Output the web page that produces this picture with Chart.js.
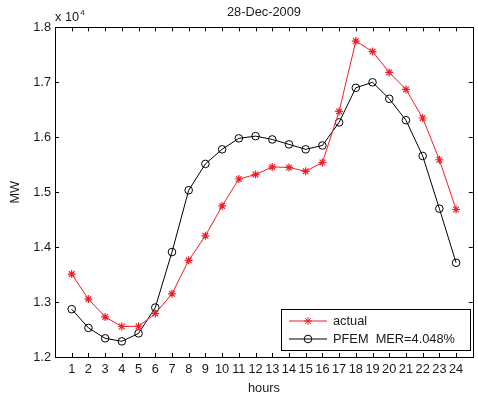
<!DOCTYPE html>
<html>
<head>
<meta charset="utf-8">
<script src="https://cdn.jsdelivr.net/npm/chart.js@4/dist/chart.umd.min.js"></script>
<style>
  html, body { margin: 0; padding: 0; background: #fff; }
  #wrap { width: 478px; height: 396px; }
</style>
</head>
<body>
<div id="wrap"><canvas id="myChart"></canvas></div>
<script>
// Data (MW)
const hours = [1,2,3,4,5,6,7,8,9,10,11,12,13,14,15,16,17,18,19,20,21,22,23,24];
const actual = [13510,13055,12730,12555,12560,12790,13150,13760,14206,14750,15240,15320,
                15460,15450,15380,15540,16470,17750,17560,17180,16870,16350,15590,14685];
const pfem = [12870,12530,12340,12285,12430,12900,13910,15036,15515,15780,15980,16020,
              15960,15870,15780,15850,16270,16900,17000,16700,16310,15660,14700,13715];
const yTicks = [12000,13000,14000,15000,16000,17000,18000];
const seriesLabels = ['actual', 'PFEM  MER=4.048%'];
const titleText = '28-Dec-2009';

const FONT = '"Liberation Sans", Arial, sans-serif';
const FS = 12.8;
const TXT = '#1a1a1a';

// inside tick marks, box, exponent label and legend box
const matlabAxes = {
  id: 'matlabAxes',
  afterDraw(chart) {
    const ctx = chart.ctx;
    const a = chart.chartArea;
    const xs = chart.scales.x, ys = chart.scales.y;
    const L = 4;
    ctx.save();
    ctx.strokeStyle = '#000';
    ctx.lineWidth = 1;
    ctx.beginPath();
    hours.forEach(h => {
      const px = Math.round(xs.getPixelForValue(h)) + 0.5;
      ctx.moveTo(px, a.bottom); ctx.lineTo(px, a.bottom - L);
      ctx.moveTo(px, a.top); ctx.lineTo(px, a.top + L);
    });
    yTicks.forEach(v => {
      const py = Math.round(ys.getPixelForValue(v)) + 0.5;
      ctx.moveTo(a.left, py); ctx.lineTo(a.left + L, py);
      ctx.moveTo(a.right, py); ctx.lineTo(a.right - L, py);
    });
    ctx.stroke();
    ctx.strokeRect(Math.round(a.left) + 0.5, Math.round(a.top) + 0.5,
                   Math.round(a.right - a.left), Math.round(a.bottom - a.top));

    // x 10^4
    ctx.fillStyle = TXT;
    ctx.textBaseline = 'alphabetic';
    ctx.textAlign = 'left';
    ctx.font = FS + 'px ' + FONT;
    ctx.fillText('x 10', a.left, a.top - 6);
    const w = ctx.measureText('x 10').width;
    ctx.font = '8px ' + FONT;
    ctx.fillText('4', a.left + w + 1, a.top - 12);

    // legend
    const bx = 281, by = 309, bw = 189, bh = 41;
    ctx.fillStyle = '#fff';
    ctx.fillRect(bx, by, bw, bh);
    ctx.strokeStyle = '#000';
    ctx.strokeRect(bx + 0.5, by + 0.5, bw, bh);
    chart.data.datasets.forEach((ds, i) => {
      const y = by + 12 + i * 18;
      ctx.strokeStyle = ds.borderColor;
      ctx.lineWidth = 1;
      ctx.beginPath();
      ctx.moveTo(289, y); ctx.lineTo(327, y);
      ctx.stroke();
      ctx.fillStyle = ds.pointBackgroundColor;
      Chart.helpers.drawPoint(ctx, {
        pointStyle: ds.pointStyle, radius: ds.pointRadius,
        borderWidth: 1, rotation: 0
      }, 308, y);
      ctx.fillStyle = TXT;
      ctx.font = FS + 'px ' + FONT;
      ctx.textBaseline = 'middle';
      ctx.textAlign = 'left';
      ctx.fillText(ds.label, 333, y);
    });
    ctx.restore();
  }
};

const data = {
  datasets: [{
    label: seriesLabels[0],
    data: hours.map((h, i) => ({x: h, y: actual[i]})),
    borderColor: 'rgb(240,30,40)',
    pointBorderColor: 'rgb(240,30,40)',
    pointBackgroundColor: 'rgb(240,30,40)',
    pointStyle: 'star',
    pointRadius: 4,
    borderWidth: 1,
    pointBorderWidth: 1.2
  }, {
    label: seriesLabels[1],
    data: hours.map((h, i) => ({x: h, y: pfem[i]})),
    borderColor: '#000',
    pointBorderColor: '#000',
    pointBackgroundColor: 'rgba(0,0,0,0)',
    pointStyle: 'circle',
    pointRadius: 3.8,
    borderWidth: 1,
    pointBorderWidth: 1
  }]
};

const config = {
  type: 'line',
  data,
  options: {
    responsive: true,
    maintainAspectRatio: false,
    animation: false,
    layout: { padding: { left: 0, right: 4, top: 0, bottom: 0 } },
    plugins: {
      legend: { display: false },
      tooltip: { enabled: false },
      title: {
        display: true,
        text: titleText,
        fullSize: false,
        color: TXT,
        font: { family: FONT, size: FS, weight: 'normal' },
        padding: { top: 5, bottom: 7 }
      }
    },
    scales: {
      x: {
        type: 'linear',
        min: 0, max: 25,
        afterBuildTicks: s => { s.ticks = hours.map(v => ({value: v})); },
        afterFit: s => { s.height = 39; },
        grid: { display: false, drawTicks: false },
        border: { display: false },
        ticks: {
          color: TXT, padding: 5, maxRotation: 0, autoSkip: false,
          font: { family: FONT, size: FS }
        },
        title: {
          display: true, text: 'hours', color: TXT,
          font: { family: FONT, size: FS }, padding: { top: 1, bottom: 0 }
        }
      },
      y: {
        min: 12000, max: 18000,
        afterBuildTicks: s => { s.ticks = yTicks.map(v => ({value: v})); },
        afterFit: s => { s.width = 55; },
        grid: { display: false, drawTicks: false },
        border: { display: false },
        ticks: {
          color: TXT, padding: 4,
          font: { family: FONT, size: FS },
          callback: v => (v / 10000).toFixed(1)
        },
        title: {
          display: true, text: 'MW', color: TXT,
          font: { family: FONT, size: FS }, padding: { top: 8, bottom: 0 }
        }
      }
    }
  },
  plugins: [matlabAxes]
};

var myChart = new Chart(document.getElementById('myChart'), config);
</script>
</body>
</html>
